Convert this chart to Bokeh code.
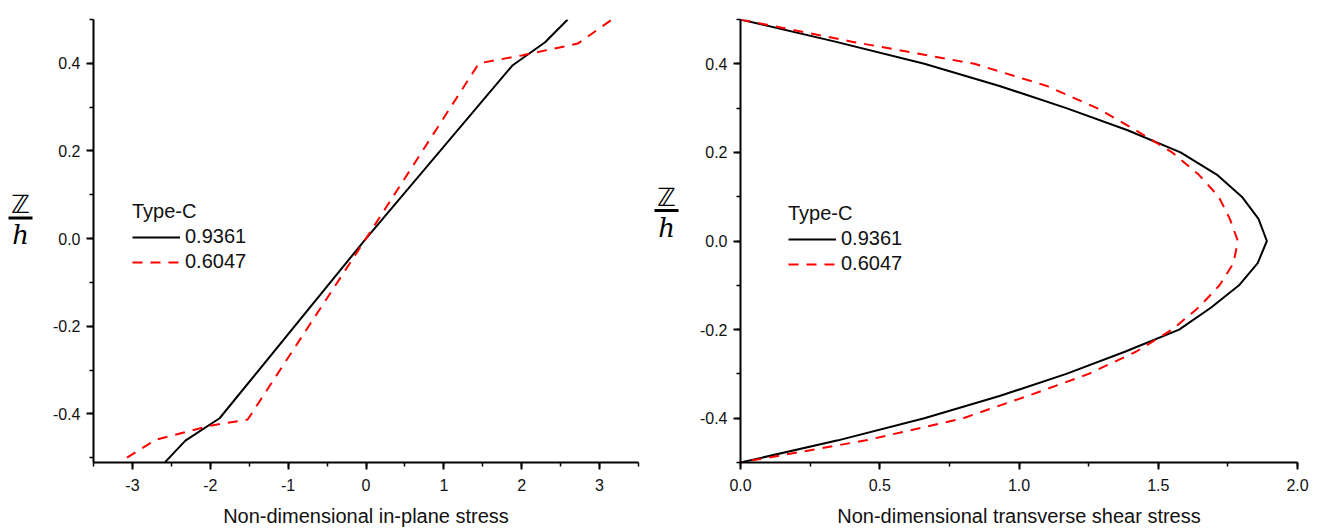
from bokeh.plotting import figure
from bokeh.layouts import row
from bokeh.models import (SingleIntervalTicker, Legend, LegendItem, Range1d,
                          NumeralTickFormatter)
from bokeh.core.properties import value
from bokeh.embed import file_html
from bokeh.resources import INLINE

# ---- in-plane stress through the thickness (z/h) ----
inplane_z_a = [-0.51, -0.461, -0.41, 0.0, 0.395, 0.448, 0.50]
inplane_s_a = [-2.58, -2.32, -1.88, 0.0, 1.88, 2.30, 2.59]

inplane_z_b = [-0.50, -0.459, -0.427, -0.413, 0.0, 0.40, 0.418, 0.445, 0.50]
inplane_s_b = [-3.07, -2.70, -2.00, -1.52, 0.0, 1.45, 2.00, 2.72, 3.16]

# ---- transverse shear stress through the thickness (z/h) ----
shear_z = [0.50, 0.45, 0.40, 0.35, 0.30, 0.25, 0.20, 0.15, 0.10, 0.05, 0.0,
           -0.05, -0.10, -0.15, -0.20, -0.25, -0.30, -0.35, -0.40, -0.45, -0.50]
shear_s_a = [0.0, 0.34, 0.66, 0.93, 1.17, 1.39, 1.58, 1.71, 1.80, 1.86, 1.89,
             1.857, 1.79, 1.69, 1.575, 1.38, 1.17, 0.93, 0.66, 0.35, 0.0]
shear_s_b = [0.0, 0.40, 0.84, 1.10, 1.28, 1.42, 1.55, 1.645, 1.717, 1.757, 1.786,
             1.77, 1.72, 1.645, 1.55, 1.42, 1.25, 1.03, 0.80, 0.45, 0.0]

legend_title = "Type-C"
series_labels = ["0.9361", "0.6047"]
xlabel_left = "Non-dimensional in-plane stress"
xlabel_right = "Non-dimensional transverse shear stress"

FONT = "Liberation Sans"
RED = "#ff0000"
H = 529


def style(p, x_interval, y_interval, x_fmt, y_fmt):
    p.xgrid.visible = False
    p.ygrid.visible = False
    p.outline_line_color = None
    p.background_fill_color = "white"
    p.border_fill_color = "white"
    p.xaxis.ticker = SingleIntervalTicker(interval=x_interval, num_minor_ticks=2)
    p.yaxis.ticker = SingleIntervalTicker(interval=y_interval, num_minor_ticks=2)
    p.xaxis.formatter = NumeralTickFormatter(format=x_fmt)
    p.yaxis.formatter = NumeralTickFormatter(format=y_fmt)
    for ax in (p.xaxis[0], p.yaxis[0]):
        ax.axis_line_width = 2
        ax.axis_line_color = "black"
        ax.major_tick_line_width = 2
        ax.minor_tick_line_width = 1.5
        ax.major_tick_line_color = "black"
        ax.minor_tick_line_color = "black"
        ax.major_tick_in = 0
        ax.major_tick_out = 7
        ax.minor_tick_in = 0
        ax.minor_tick_out = 4
        ax.major_label_text_font = FONT
        ax.major_label_text_font_size = "16px"
        ax.major_label_text_color = "#111111"
        ax.axis_label_text_font = FONT
        ax.axis_label_text_font_size = "20px"
        ax.axis_label_text_font_style = "normal"
        ax.axis_label_text_color = "#111111"
    p.xaxis.major_label_standoff = 9
    p.xaxis.axis_label_standoff = 11
    p.yaxis.major_label_standoff = 6


def zh_panel(width, xc, y_top, y_bar, y_bot):
    """Narrow strip holding the stacked z / h axis title."""
    z = figure(width=width, height=H, output_backend="svg", toolbar_location=None,
               x_range=Range1d(0, width), y_range=Range1d(0, H),
               x_axis_type=None, y_axis_type=None,
               min_border_left=0, min_border_right=0, min_border_top=0,
               min_border_bottom=0)
    z.outline_line_color = None
    z.text(x=[xc], y=[H - y_top], text=["\u2124"], text_align="center",
           text_baseline="middle", text_font=value("DejaVu Sans"),
           text_font_size="25px", text_color="black")
    z.segment(x0=[xc - 12], x1=[xc + 12], y0=[H - y_bar], y1=[H - y_bar],
              line_color="black", line_width=3)
    z.text(x=[xc], y=[H - y_bot], text=["h"], text_align="center",
           text_baseline="middle", text_font=value("DejaVu Serif"),
           text_font_style="italic", text_font_size="26px", text_color="black")
    return z


def add_legend(p, r1, r2, loc):
    leg = Legend(items=[LegendItem(label=series_labels[0], renderers=[r1]),
                        LegendItem(label=series_labels[1], renderers=[r2])],
                 title=legend_title, location=loc)
    leg.title_text_font = FONT
    leg.title_text_font_size = "20px"
    leg.title_text_font_style = "normal"
    leg.title_text_color = "#111111"
    leg.label_text_font = FONT
    leg.label_text_font_size = "20px"
    leg.label_text_color = "#111111"
    leg.border_line_alpha = 0
    leg.background_fill_alpha = 0
    leg.padding = 0
    leg.margin = 0
    leg.spacing = 2
    leg.glyph_width = 48
    leg.glyph_height = 20
    leg.label_height = 20
    leg.label_standoff = 5
    leg.title_standoff = 2
    p.add_layout(leg)


# ---- left panel ----
left = figure(width=600, height=H, output_backend="svg", toolbar_location=None,
              x_range=Range1d(-3.5, 3.5), y_range=Range1d(-0.511, 0.5),
              min_border_left=48, min_border_right=7, min_border_top=19,
              min_border_bottom=65, x_axis_label=xlabel_left)
style(left, 1, 0.2, "0", "0.0")
la = left.line(inplane_s_a, inplane_z_a, line_color="black", line_width=2)
lb = left.line(inplane_s_b, inplane_z_b, line_color=RED, line_width=2,
               line_dash="10 8")
add_legend(left, la, lb, (39, 189))

# ---- right panel ----
right = figure(width=630, height=H, output_backend="svg", toolbar_location=None,
               x_range=Range1d(0, 2.0), y_range=Range1d(-0.5, 0.5),
               min_border_left=50, min_border_right=23, min_border_top=10,
               min_border_bottom=66, x_axis_label=xlabel_right)
style(right, 0.5, 0.2, "0.0", "0.0")
ra = right.line(shear_s_a, shear_z, line_color="black", line_width=2)
rb = right.line(shear_s_b, shear_z, line_color=RED, line_width=2,
                line_dash="10 8")
add_legend(right, ra, rb, (48, 187))

zl = zh_panel(45, 20, 221, 237, 257)
zr = zh_panel(45, 21, 213, 228, 249)

layout = row(zl, left, zr, right)
open("out.html", "w").write(file_html(layout, INLINE))
